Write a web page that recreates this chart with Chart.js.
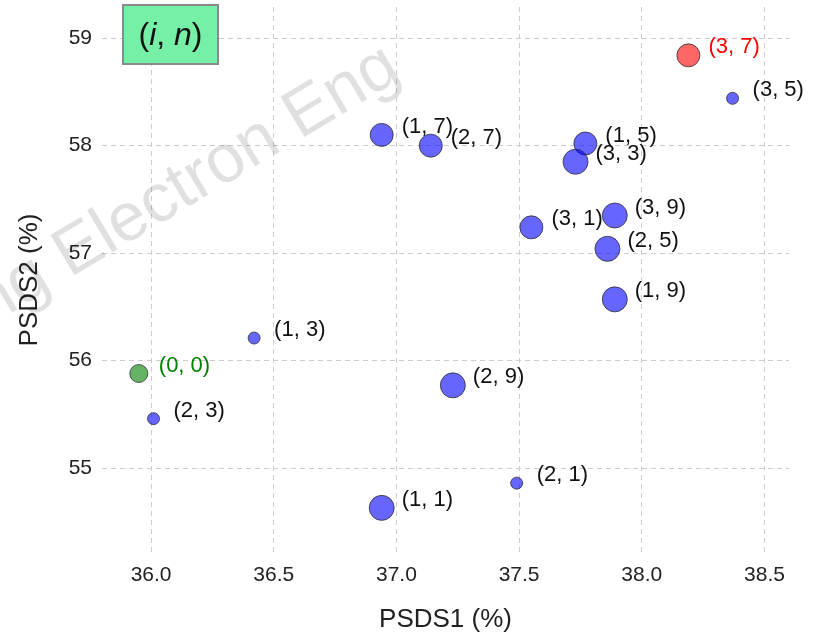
<!DOCTYPE html>
<html>
<head>
<meta charset="utf-8">
<script src="https://cdn.jsdelivr.net/npm/chart.js@4.4.1/dist/chart.umd.min.js"></script>
<style>
  body { margin: 0; background: #fff; }
  canvas { display: block; }
</style>
</head>
<body>
<canvas id="chart" width="821" height="634"></canvas>
<script>
// Configurations (i, n) and their PSDS values
var pointLabels = ['(0, 0)', '(1, 1)', '(1, 3)', '(1, 5)', '(1, 7)', '(1, 9)',
                   '(2, 1)', '(2, 3)', '(2, 5)', '(2, 7)', '(2, 9)',
                   '(3, 1)', '(3, 3)', '(3, 5)', '(3, 7)', '(3, 9)'];
var psds1 = [35.95, 36.94, 36.42, 37.77, 36.94, 37.89,
             37.49, 36.01, 37.86, 37.14, 37.23,
             37.55, 37.73, 38.37, 38.19, 37.89];
var psds2 = [55.88, 54.63, 56.21, 58.02, 58.10, 56.57,
             54.86, 55.46, 57.04, 58.00, 55.77,
             57.24, 57.85, 58.44, 58.84, 57.35];
var bubbleSize = [9, 12.5, 6, 11.5, 11.5, 12.5,
                  6, 6, 12.5, 11.5, 12.5,
                  11.5, 12.5, 6, 11.5, 12.5];

var xTicks = [36.0, 36.5, 37.0, 37.5, 38.0, 38.5];
var yTicks = [55, 56, 57, 58, 59];

var baseline = '(0, 0)';
var best = '(3, 7)';
var FONT = '"Liberation Sans", Arial, sans-serif';

// Split points into baseline / best / the rest
function pointsFor(test) {
    let pts = [];
    for (let i = 0; i < pointLabels.length; i++) {
        if (test(pointLabels[i])) {
            pts.push({x: psds1[i], y: psds2[i], r: bubbleSize[i], label: pointLabels[i]});
        }
    }
    return pts;
}

var groups = [
    {data: pointsFor(l => l !== baseline && l !== best), fill: 'rgba(0,0,255,0.6)', text: '#111111'},
    {data: pointsFor(l => l === best), fill: 'rgba(255,0,0,0.6)', text: '#ff0000'},
    {data: pointsFor(l => l === baseline), fill: 'rgba(0,128,0,0.6)', text: '#008000'}
];

// Light watermark behind the points
var watermark = {
    id: 'watermark',
    beforeDatasetsDraw(chart) {
        let ctx = chart.ctx;
        ctx.save();
        ctx.translate(60, 262);
        ctx.rotate(-31 * Math.PI / 180);
        ctx.font = '68px ' + FONT;
        ctx.fillStyle = 'rgba(0,0,0,0.12)';
        ctx.textBaseline = 'middle';
        ctx.textAlign = 'left';
        ctx.fillText('Electron Eng', 0, 0);
        ctx.textAlign = 'right';
        ctx.fillText('ng ', 0, 0);
        ctx.restore();
    }
};

// Text next to every bubble
var bubbleLabels = {
    id: 'bubbleLabels',
    afterDatasetsDraw(chart) {
        let ctx = chart.ctx;
        ctx.save();
        ctx.font = '22px ' + FONT;
        ctx.textAlign = 'left';
        ctx.textBaseline = 'middle';
        chart.data.datasets.forEach(function(ds, d) {
            let meta = chart.getDatasetMeta(d);
            ctx.fillStyle = groups[d].text;
            meta.data.forEach(function(el, i) {
                ctx.fillText(ds.data[i].label, el.x + 20, el.y - 8);
            });
        });
        ctx.restore();
    }
};

// "(i, n)" key box in the upper left corner
var keyBox = {
    id: 'keyBox',
    afterDraw(chart) {
        let ctx = chart.ctx;
        ctx.save();
        ctx.fillStyle = '#76f0a6';
        ctx.fillRect(123, 5, 95, 59);
        ctx.strokeStyle = '#8a8a8a';
        ctx.lineWidth = 2;
        ctx.strokeRect(123, 5, 95, 59);
        let parts = [['(', ''], ['i', 'italic '], [', ', ''], ['n', 'italic '], [')', '']];
        let total = 0;
        parts.forEach(function(p) {
            ctx.font = p[1] + '32px ' + FONT;
            total += ctx.measureText(p[0]).width;
        });
        let x = 170.5 - total / 2;
        ctx.fillStyle = '#111';
        ctx.textBaseline = 'middle';
        parts.forEach(function(p) {
            ctx.font = p[1] + '32px ' + FONT;
            ctx.fillText(p[0], x, 36);
            x += ctx.measureText(p[0]).width;
        });
        ctx.restore();
    }
};

new Chart(document.getElementById('chart'), {
    type: 'bubble',
    data: {
        datasets: groups.map(g => ({
            data: g.data,
            backgroundColor: g.fill,
            borderColor: 'rgba(40,40,40,0.75)',
            borderWidth: 1,
            hoverRadius: 0
        }))
    },
    options: {
        responsive: false,
        animation: false,
        events: [],
        layout: {autoPadding: false, padding: {top: 7, right: 32, left: 0, bottom: 0}},
        plugins: {legend: {display: false}, tooltip: {enabled: false}},
        scales: {
            x: {
                type: 'linear',
                min: 35.8,
                max: 38.6,
                afterFit: function(scale) { scale.height = 81; },
                afterBuildTicks: function(scale) { scale.ticks = xTicks.map(v => ({value: v})); },
                ticks: {
                    padding: 10,
                    color: '#222',
                    font: {family: FONT, size: 21},
                    callback: v => v.toFixed(1)
                },
                grid: {color: '#cdcdcd', drawTicks: false},
                border: {display: false, dash: [5, 4]},
                title: {
                    display: true,
                    text: 'PSDS1 (%)',
                    color: '#222',
                    font: {family: FONT, size: 26, lineHeight: 1},
                    padding: {top: 0, bottom: 1}
                }
            },
            y: {
                type: 'linear',
                min: 54.21,
                max: 59.29,
                afterFit: function(scale) {
                    scale.width = 102;
                    scale.paddingTop = 0;
                    scale.paddingBottom = 0;
                },
                afterBuildTicks: function(scale) { scale.ticks = yTicks.map(v => ({value: v})); },
                ticks: {
                    padding: 10,
                    color: '#222',
                    font: {family: FONT, size: 21, lineHeight: 0.5}
                },
                grid: {color: '#cdcdcd', drawTicks: false},
                border: {display: false, dash: [5, 4]},
                title: {
                    display: true,
                    text: 'PSDS2 (%)',
                    color: '#222',
                    font: {family: FONT, size: 26, lineHeight: 1},
                    padding: {top: 17, bottom: 0}
                }
            }
        }
    },
    plugins: [watermark, bubbleLabels, keyBox]
});
</script>
</body>
</html>
